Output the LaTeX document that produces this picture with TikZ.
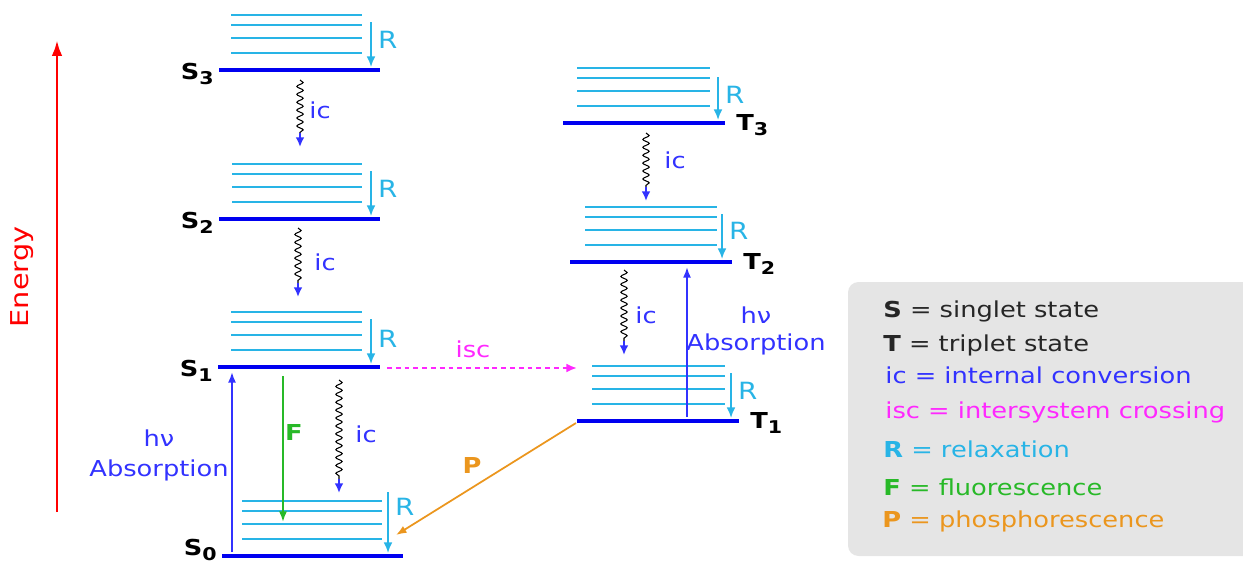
\documentclass[tikz,border=0pt]{standalone}
\usepackage{fontspec}
\setmainfont{DejaVu Sans}[FakeStretch=1.17]
\usepackage{tikz}
\usetikzlibrary{positioning, calc, arrows.meta, decorations.pathmorphing}
\definecolor{levelblue}{RGB}{0, 0, 240}
\definecolor{subcyan}{RGB}{40, 180, 230}
\definecolor{icblue}{RGB}{50, 50, 255}
\definecolor{iscmagenta}{RGB}{255, 40, 255}
\definecolor{fgreen}{RGB}{40, 185, 40}
\definecolor{porange}{RGB}{235, 150, 30}
\definecolor{legendgray}{RGB}{229, 229, 229}

\begin{document}
\begin{tikzpicture}[x=0.02cm, y=-0.02cm, font=\fontsize{12.5}{14}\selectfont]
	\tikzstyle{mainlevel}=[draw=levelblue, line width=2.3pt]
	\tikzstyle{sublevel}=[draw=subcyan, line width=1pt]
	\tikzstyle{relax}=[draw=subcyan, line width=1pt, -{Latex[length=6pt, width=5pt]}]
	\tikzstyle{wavy}=[draw=black, line width=0.6pt, decorate, decoration={snake, amplitude=1.8pt, segment length=4.5pt}]
	\tikzstyle{icarrow}=[draw=icblue, line width=1.2pt, -{Latex[length=5.5pt, width=5pt]}]
	\tikzstyle{radiative}=[line width=1pt, -{Latex[length=6pt, width=4.5pt]}]
	\tikzstyle{statelabel}=[font=\fontsize{12.5}{14}\selectfont\bfseries, inner sep=0pt]
	\tikzstyle{legendtext}=[anchor=base west, inner sep=0pt]
	
	\useasboundingbox (0,0) rectangle (1243,565);
	
	% energy axis
	\coordinate (E0) at (57,512);
	\coordinate (E1) at (57,40);
	\draw[red, line width=1.7pt, -{Latex[length=9pt, width=6pt]}] (E0) -- (E1);
	\node[red, rotate=90, font=\fontsize{14}{16}\selectfont] (energy) at (22,277) {Energy};
	
	% levels: name / left / right / y / sub left / sub right / R x / R top / R label
	\foreach \n/\xa/\xb/\y/\sa/\sb/\r/\rt/\rl in {S3/219/380/70/231/362/371/48/30, S2/219/380/219/232/362/371/48/30, S1/218/380/367/231/362/371/48/28, S0/222/403/556/242/382/388/64/49, T3/563/725/123/577/710/718/46/28, T2/570/732/262/585/717/722/48/31, T1/577/739/421/592/725/731/48/30}
	{
		\coordinate (\n a) at (\xa,\y);
		\coordinate (\n b) at (\xb,\y);
		\foreach \d in {55,45,32,17}
			\draw[sublevel] (\sa,\y-\d) -- (\sb,\y-\d);
		\draw[mainlevel] (\n a) -- (\n b);
		\coordinate (\n top) at (\r,\y-\rt);
		\coordinate (\n bot) at (\r,\y-3);
		\draw[relax] (\n top) -- (\n bot);
		\node[text=subcyan, font=\fontsize{13.5}{15}\selectfont, anchor=west, inner sep=1pt] (R\n) at (\r+5,\y-\rl) {R};
	}
	
	% state names
	\foreach \k/\dy in {3/9,2/9,1/9,0/-1}
		\node[statelabel, anchor=base east] (labS\k) at ($(S\k a)+(-5,\dy)$) {S\raisebox{-0.45ex}{\fontsize{10}{10}\selectfont\bfseries \k}};
	\foreach \k in {3,2,1}
		\node[statelabel, anchor=base west] (labT\k) at ($(T\k b)+(11,7)$) {T\raisebox{-0.45ex}{\fontsize{10}{10}\selectfont\bfseries \k}};
	
	% internal conversion
	\foreach \i/\x/\ya/\yb/\lx/\ly in {1/300/80/147/320/110, 2/298/228/297/325/262, 3/339/380/493/366/434, 4/646/133/201/675/160, 5/624/270/355/646/315}
	{
		\coordinate (ic\i a) at (\x,\ya);
		\coordinate (ic\i b) at (\x,\yb);
		\coordinate (ic\i m) at (\x,\yb-14);
		\draw[wavy] (ic\i a) -- (ic\i m);
		\draw[icarrow] (ic\i m) -- (ic\i b);
		\node[text=icblue] (icl\i) at (\lx,\ly) {ic};
	}
	
	% absorption
	\coordinate (absA) at (232,552);
	\coordinate (absB) at (232,372);
	\draw[radiative, icblue] (absA) -- (absB);
	\node[text=icblue, align=center, font=\fontsize{12.5}{17}\selectfont] (absl) at (159,455) {hν\\Absorption};
	\coordinate (absC) at (687,417);
	\coordinate (absD) at (687,267);
	\draw[radiative, icblue] (absC) -- (absD);
	\node[text=icblue, align=center, font=\fontsize{12.5}{15.5}\selectfont] (abslT) at (756,331) {hν\\Absorption};
	
	% fluorescence
	\coordinate (Fa) at (283,376);
	\coordinate (Fb) at (283,522);
	\draw[radiative, fgreen] (Fa) -- (Fb);
	\node[text=fgreen, font=\fontsize{12.5}{14}\selectfont\bfseries] (Fl) at (294,432) {F};
	
	% intersystem crossing
	\coordinate (isca) at (387,368);
	\coordinate (iscb) at (577,368);
	\draw[iscmagenta, line width=1.1pt, dash pattern=on 2.8pt off 2.2pt, -{Latex[length=6pt, width=5pt]}] (isca) -- (iscb);
	\node[text=iscmagenta] (iscl) at (473,349) {isc};
	
	% phosphorescence
	\coordinate (Pa) at (576,423);
	\coordinate (Pb) at (396,535);
	\draw[radiative, porange] (Pa) -- (Pb);
	\node[text=porange, font=\fontsize{12.5}{14}\selectfont\bfseries] (Pl) at (472,465) {P};
	
	% legend
	\fill[legendgray, rounded corners=6pt] (848,282) rectangle (1262,556);
	\node[legendtext, text=black!85] (leg1) at (883,317) {\textbf{S} = singlet state};
	\node[legendtext, text=black!85] (leg2) at (883,351) {\textbf{T} = triplet state};
	\node[legendtext, text=icblue] (leg3) at (885,383) {ic = internal conversion};
	\node[legendtext, text=iscmagenta] (leg4) at (885,418) {isc = intersystem crossing};
	\node[legendtext, text=subcyan] (leg5) at (883,457) {\textbf{R} = relaxation};
	\node[legendtext, text=fgreen] (leg6) at (883,495) {\textbf{F} = fluorescence};
	\node[legendtext, text=porange] (leg7) at (882,527) {\textbf{P} = phosphorescence};
\end{tikzpicture}
\end{document}
